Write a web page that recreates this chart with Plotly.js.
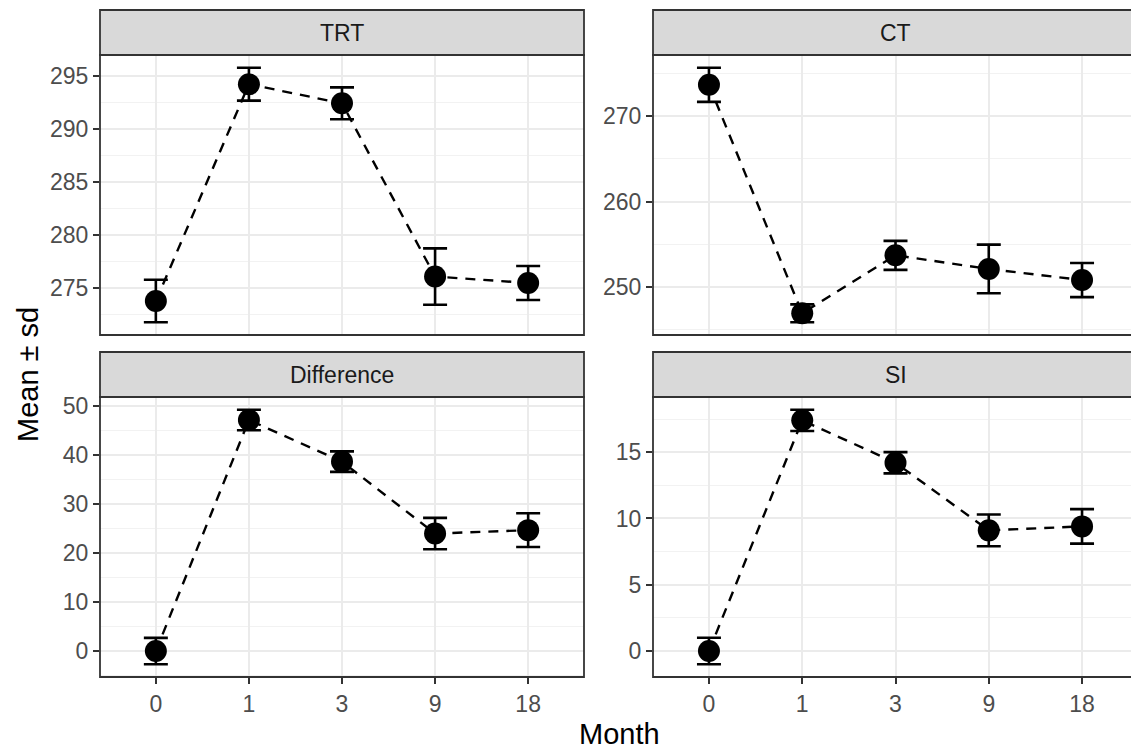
<!DOCTYPE html>
<html>
<head>
<meta charset="utf-8">
<script src="https://cdn.plot.ly/plotly-3.0.1.min.js"></script>
<style>html,body{margin:0;padding:0;background:#fff;}#chart{width:1131px;height:749px;}</style>
</head>
<body>
<div id="chart"></div>
<script>
const months = ['0', '1', '3', '9', '18'];
const panelNames = ['TRT', 'CT', 'Difference', 'SI'];
const trtMean = [273.8, 294.2, 292.4, 276.1, 275.5];
const trtSd = [2.0, 1.55, 1.5, 2.65, 1.6];
const ctMean = [273.7, 246.9, 253.7, 252.1, 250.8];
const ctSd = [2.0, 1.05, 1.7, 2.85, 2.0];
const diffMean = [0.0, 47.2, 38.7, 24.0, 24.7];
const diffSd = [2.7, 2.1, 2.1, 3.2, 3.45];
const siMean = [0.0, 17.4, 14.2, 9.1, 9.4];
const siSd = [1.0, 0.8, 0.8, 1.2, 1.3];
const yDticks = [5, 10, 10, 5];

const W = 1131, H = 749;
const means = [trtMean, ctMean, diffMean, siMean];
const sds = [trtSd, ctSd, diffSd, siSd];

// panel geometry in pixels
const colX = [[100, 584], [653, 1131]];
const colRangeMax = [4.6, -0.6 + (1131 - 653) / ((1138 - 653) / 5.2)];
const rowY = [[55, 335], [397, 677]];
const stripY = [[10, 55], [352, 397]];

const font = 'Liberation Sans, Arial, sans-serif';
const traces = [];
const layout = {
  width: W, height: H,
  margin: {l: 0, r: 0, t: 0, b: 0},
  paper_bgcolor: '#fff', plot_bgcolor: '#fff',
  showlegend: false,
  font: {family: font, color: '#4D4D4D', size: 23},
  shapes: [], annotations: []
};

for (let p = 0; p < 4; p++) {
  const col = p % 2, row = Math.floor(p / 2);
  const sfx = p === 0 ? '' : String(p + 1);
  const m = means[p], s = sds[p];
  const lo = Math.min(...m.map((v, i) => v - s[i]));
  const hi = Math.max(...m.map((v, i) => v + s[i]));
  const ex = (hi - lo) * 0.05;
  traces.push({
    type: 'scatter', mode: 'lines+markers',
    x: months, y: m,
    xaxis: 'x' + sfx, yaxis: 'y' + sfx,
    line: {color: '#000', width: 2.4, dash: '10px,8px'},
    marker: {color: '#000', size: 22},
    error_y: {type: 'data', array: s, visible: true, color: '#000', thickness: 2.6, width: 12},
    cliponaxis: false,
    hoverinfo: 'none'
  });
  const x0 = colX[col][0] / W, x1 = colX[col][1] / W;
  const y0 = 1 - rowY[row][1] / H, y1 = 1 - rowY[row][0] / H;
  const d = yDticks[p];
  layout['xaxis' + sfx] = {
    domain: [x0, x1], anchor: 'y' + sfx,
    type: 'category', categoryorder: 'array', categoryarray: months,
    range: [-0.6, colRangeMax[col]],
    showgrid: true, gridcolor: '#EBEBEB', gridwidth: 2,
    zeroline: false, showline: false,
    ticks: row === 1 ? 'outside' : '', ticklen: 6, tickwidth: 2, tickcolor: '#333333',
    showticklabels: row === 1,
    tickfont: {family: font, size: 23, color: '#4D4D4D'},
    fixedrange: true
  };
  layout['yaxis' + sfx] = {
    domain: [y0, y1], anchor: 'x' + sfx,
    range: [lo - ex, hi + ex],
    tick0: 0, dtick: d,
    showgrid: true, gridcolor: '#EBEBEB', gridwidth: 2,
    minor: {dtick: d / 2, tick0: 0, showgrid: true, gridcolor: '#F2F2F2', gridwidth: 1, ticks: ''},
    zeroline: false, showline: false,
    ticks: 'outside', ticklen: 6, tickwidth: 2, tickcolor: '#333333',
    tickfont: {family: font, size: 23, color: '#4D4D4D'},
    fixedrange: true
  };
  const bx1 = col === 1 ? 1.02 : x1;
  // panel border
  layout.shapes.push({type: 'rect', xref: 'paper', yref: 'paper', x0: x0, x1: bx1, y0: y0, y1: y1,
    line: {color: '#333333', width: 1.8}, fillcolor: 'rgba(0,0,0,0)', layer: 'above'});
  // strip
  const sy0 = 1 - stripY[row][1] / H, sy1 = 1 - stripY[row][0] / H;
  layout.shapes.push({type: 'rect', xref: 'paper', yref: 'paper', x0: x0, x1: bx1, y0: sy0, y1: sy1,
    line: {color: '#333333', width: 1.8}, fillcolor: '#D9D9D9', layer: 'above'});
  const cx = col === 1 ? (653 + 1138) / 2 / W : (x0 + x1) / 2;
  layout.annotations.push({xref: 'paper', yref: 'paper', x: cx, y: (sy0 + sy1) / 2,
    text: panelNames[p], showarrow: false, xanchor: 'center', yanchor: 'middle',
    font: {family: font, size: 23, color: '#1A1A1A'}});
}

layout.annotations.push({xref: 'paper', yref: 'paper', x: 619 / W, y: 1 - 734 / H,
  text: 'Month', showarrow: false, xanchor: 'center', yanchor: 'middle',
  font: {family: font, size: 29, color: '#000'}});
layout.annotations.push({xref: 'paper', yref: 'paper', x: 28 / W, y: 1 - 375 / H,
  text: 'Mean ± sd', showarrow: false, textangle: -90, xanchor: 'center', yanchor: 'middle',
  font: {family: font, size: 29, color: '#000'}});

Plotly.newPlot('chart', traces, layout, {staticPlot: true, displayModeBar: false});
</script>
</body>
</html>
